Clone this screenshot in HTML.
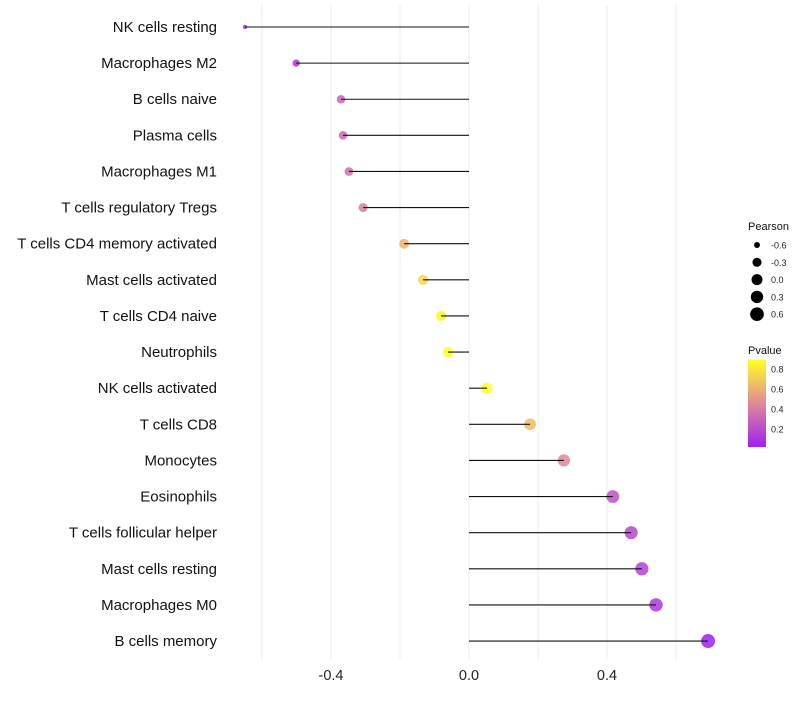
<!DOCTYPE html>
<html><head><meta charset="utf-8"><style>
body{margin:0;background:#fff;font-family:"Liberation Sans",sans-serif}
</style></head><body>
<svg id="c" width="800" height="700"></svg>
<script>
const cells=["NK cells resting","Macrophages M2","B cells naive","Plasma cells","Macrophages M1","T cells regulatory  Tregs","T cells CD4 memory activated","Mast cells activated","T cells CD4 naive","Neutrophils","NK cells activated","T cells CD8","Monocytes","Eosinophils","T cells follicular helper","Mast cells resting","Macrophages M0","B cells memory"];
const pearson=[-0.649,-0.501,-0.371,-0.365,-0.348,-0.307,-0.188,-0.133,-0.081,-0.061,0.052,0.177,0.275,0.417,0.470,0.501,0.542,0.693];
const pvalue=[0.03,0.1,0.3,0.3,0.35,0.4,0.62,0.75,0.86,0.9,0.9,0.65,0.45,0.22,0.18,0.16,0.12,0.02];
const xTicks=[-0.4,0.0,0.4];
const gridVals=[-0.6,-0.4,-0.2,0,0.2,0.4,0.6];
const sizeLegend=[-0.6,-0.3,0.0,0.3,0.6];
const colorLegend=[0.8,0.6,0.4,0.2];
const NS="http://www.w3.org/2000/svg";
const svg=document.getElementById('c');
const X=v=>469+v*345;
const Y=i=>27+i*36.12;
const R=v=>2+5*Math.sqrt(Math.max(0,(v+0.65)/1.34));
function lerp(a,b,t){return a.map((x,i)=>Math.round(x+(b[i]-x)*t));}
function col(p){let t=(p-0.02)/(0.89-0.02);t=Math.max(0,Math.min(1,t));
 const s=[[160,32,240],[224,136,154],[255,255,34]];
 const c=t<0.5?lerp(s[0],s[1],t*2):lerp(s[1],s[2],(t-0.5)*2);return `rgb(${c})`;}
function el(t,a,txt){const e=document.createElementNS(NS,t);for(const k in a)e.setAttribute(k,a[k]);if(txt!=null)e.textContent=txt;svg.appendChild(e);return e;}
gridVals.forEach(g=>{const e=el('line',{x1:X(g),x2:X(g),y1:5,y2:660,stroke:'#ebebeb','stroke-width':1});

});
xTicks.forEach(t=>{const e=el('text',{x:X(t),y:680,'text-anchor':'middle','font-size':14.5,fill:'#222'},t.toFixed(1));

});
cells.forEach((c,i)=>{
 const y=Y(i);
 const l=el('text',{x:217,y:y+5,'text-anchor':'end','font-size':15,fill:'#111','xml:space':'preserve'},c);
 
 
 const d=el('circle',{cx:X(pearson[i]),cy:y,r:R(pearson[i]),fill:col(pvalue[i]),'fill-opacity':0.85});
 
 
 const s=el('line',{x1:X(0),x2:X(pearson[i]),y1:y,y2:y,stroke:'#111','stroke-width':1.1});
 
 
});
const t1=el('text',{x:748,y:230,'font-size':11,fill:'#111'},'Pearson');


sizeLegend.forEach((v,i)=>{const y=245+i*17.3;
 const c=el('circle',{cx:757,cy:y,r:Math.max(2.5,R(v)),fill:'#000'});
 
 
 const t=el('text',{x:771,y:y+3.5,'font-size':9,fill:'#222'},v.toFixed(1));
 
 });
const t2=el('text',{x:748,y:354,'font-size':11,fill:'#111'},'Pvalue');


const defs=el('defs',{});
const g=document.createElementNS(NS,'linearGradient');g.setAttribute('id','gr');g.setAttribute('x1',0);g.setAttribute('y1',1);g.setAttribute('x2',0);g.setAttribute('y2',0);
[0,0.25,0.5,0.75,1].forEach(o=>{const s=document.createElementNS(NS,'stop');s.setAttribute('offset',o);s.setAttribute('stop-color',col(0.02+o*0.87));g.appendChild(s);});
defs.appendChild(g);
const bar=el('rect',{x:748,y:360,width:18,height:87,fill:'url(#gr)'});


colorLegend.forEach(v=>{const y=369+(0.8-v)*100;
 const t=el('text',{x:771,y:y+3.5,'font-size':9,fill:'#222'},v.toFixed(1));
 
 });
</script>
</body></html>
